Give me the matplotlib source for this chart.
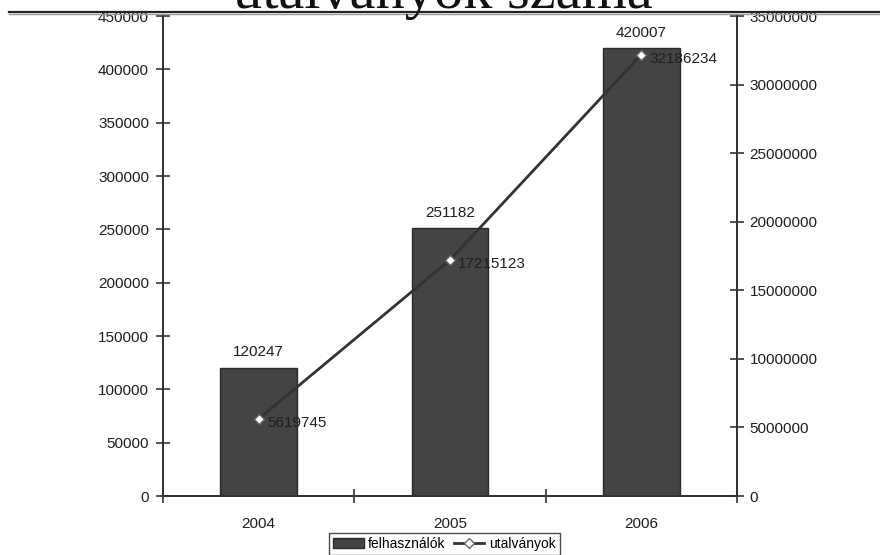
import numpy as np
import matplotlib.pyplot as plt
from matplotlib.lines import Line2D

years = ['2004', '2005', '2006']
felhasznalok = [120247, 251182, 420007]
utalvanyok = [5619745, 17215123, 32186234]
left_ticks = [0, 50000, 100000, 150000, 200000, 250000, 300000, 350000, 400000, 450000]
right_ticks = [0, 5000000, 10000000, 15000000, 20000000, 25000000, 30000000, 35000000]

plt.rcParams['font.family'] = ['Liberation Sans', 'DejaVu Sans']
txt = '#1e1e1e'

fig = plt.figure(figsize=(8.8, 5.55), dpi=100)
ax = fig.add_axes([163/880, 1-496/555, (737-163)/880, (496-16)/555])
ax2 = ax.twinx()

x = np.arange(len(years))
bars = ax.bar(x, felhasznalok, width=0.40, color='#444444', edgecolor='#2a2a2a', lw=1, label='felhasználók', zorder=2)
for xi, v in zip(x, felhasznalok):
    ax.annotate(str(v), (xi, v), xytext=(0, 6), textcoords='offset points',
                ha='center', va='bottom', fontsize=11, color=txt)

ln, = ax2.plot(x, utalvanyok, color='#333333', lw=2, marker='D', markersize=5.5,
               markerfacecolor='white', markeredgecolor='#666666', label='utalványok', zorder=3)
for xi, v in zip(x, utalvanyok):
    ax2.annotate(str(v), (xi, v), xytext=(6, -3), textcoords='offset points',
                 ha='left', va='center', fontsize=11, color=txt)

ax.set_xlim(-0.5, 2.5)
ax.set_ylim(0, 450000)
ax2.set_ylim(0, 35000000)
ax.set_yticks(left_ticks)
ax.set_yticklabels([str(t) for t in left_ticks])
ax2.set_yticks(right_ticks)
ax2.set_yticklabels([str(t) for t in right_ticks])
ax.set_xticks(x)
ax.set_xticklabels(years)
ax.set_xticks([-0.5, 0.5, 1.5, 2.5], minor=True)

ax.tick_params(axis='y', direction='inout', length=10, width=1.2, colors='#333333',
               labelcolor=txt, labelsize=11, pad=5)
ax2.tick_params(axis='y', direction='inout', length=10, width=1.2, colors='#333333',
                labelcolor=txt, labelsize=11, pad=4)
ax.tick_params(axis='x', which='major', length=0, labelsize=11, labelcolor=txt, pad=15)
ax.tick_params(axis='x', which='minor', direction='inout', length=10, width=1.2, colors='#333333')

for a in (ax, ax2):
    a.spines['top'].set_visible(False)
    for s in ('left', 'right', 'bottom'):
        a.spines[s].set_color('#333333')
        a.spines[s].set_linewidth(1.3)

# cropped title and rule above the chart
fig.text(0.503, 1-8/555, 'utalványok száma', ha='center', va='baseline',
         fontsize=42, family='Liberation Serif', color='#111111')
fig.add_artist(Line2D([9/880, 1], [1-11.5/555, 1-11.5/555], color='#222222', lw=1.6))
fig.add_artist(Line2D([9/880, 1], [1-14/555, 1-14/555], color='#999999', lw=1))

leg = ax.legend([bars, ln], ['felhasználók', 'utalványok'], loc='upper center',
                bbox_to_anchor=(0.505, 1-533/555), bbox_transform=fig.transFigure,
                ncol=2, fontsize=10, frameon=True, fancybox=False, edgecolor='#222222',
                borderpad=0.3, handlelength=2.2, handletextpad=0.3, columnspacing=0.6,
                borderaxespad=0)
leg.get_frame().set_linewidth(1)

fig.savefig('out.png', dpi=100)
